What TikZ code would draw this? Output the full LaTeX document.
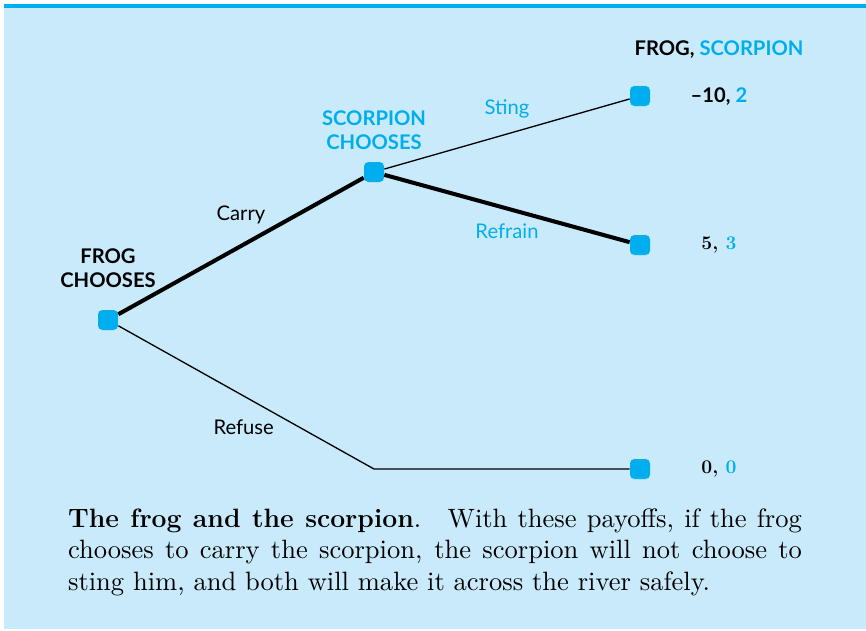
\documentclass[tikz,border=0pt]{standalone}
\usepackage{fontspec}
\setsansfont{Lato}
\newfontfamily\captionfont{lmroman10-regular.otf}[BoldFont=lmroman12-bold.otf]
\usetikzlibrary{positioning}
\definecolor{barcyan}{RGB}{0,174,239}
\definecolor{panelblue}{RGB}{201,234,251}
\definecolor{movecyan}{RGB}{0,174,239}

\begin{document}
\begin{tikzpicture}[
    x=0.02cm, y=-0.02cm,
    every node/.style={font=\sffamily\fontsize{11.5}{13.7}\selectfont},
    choice/.style={fill=movecyan, rounded corners=2.5pt, minimum size=0.4cm, inner sep=0pt},
    player/.style={font=\sffamily\bfseries\fontsize{11.5}{13.7}\selectfont, align=center, inner sep=1pt},
    payoff/.style={font=\bfseries\fontsize{11}{13}\selectfont},
    move/.style={line width=0.75pt},
    played/.style={line width=2.3pt},
    caption/.style={font=\captionfont\fontsize{15.1}{17.9}\selectfont, text width=14.68cm, align=justify, inner sep=0pt}
]
\useasboundingbox (0,0) rectangle (866,630);
\fill[panelblue] (4,4) rectangle (866,629);
\fill[barcyan] (4,4) rectangle (866,8);

% decision nodes
\node[choice] (frog) at (108,320) {};
\node[choice] (scorpion) at (374,172) {};
\node[choice] (sting) at (640,96) {};
\node[choice] (refrain) at (640,245) {};
\node[choice] (refuse) at (640,469) {};
\coordinate (bend) at (374,469);

\node[player, above=0.4cm of frog] (froglabel) {FROG\\CHOOSES};
\node[player, text=movecyan, above=0.2cm of scorpion] (scorplabel) {SCORPION\\CHOOSES};

% payoffs
\node[player] (header) at (719,50) {FROG, \textcolor{movecyan}{SCORPION}};
\node[player] (stingpay) at (719,97) {--10, \textcolor{movecyan}{2}};
\node[payoff] (refrainpay) at (719,245) {5, \textcolor{movecyan}{3}};
\node[payoff] (refusepay) at (719,469) {0, \textcolor{movecyan}{0}};

% branches
\draw[played] (frog) -- node[midway, yshift=0.62cm] (carrylabel) {Carry} (scorpion);
\draw[move] (frog) -- node[midway, yshift=-0.6cm, xshift=-0.05cm] (refuselabel) {Refuse} (bend) -- (refuse);
\draw[move] (scorpion) -- node[midway, yshift=0.5cm, text=movecyan] (stinglabel) {Sting} (sting);
\draw[played] (scorpion) -- node[midway, yshift=-0.45cm, text=movecyan] (refrainlabel) {Refrain} (refrain);

\node[caption] (caption) at (435,552) {\textbf{The frog and the scorpion}.\quad With these payoffs, if the frog\linebreak chooses to carry the scorpion, the scorpion will not choose to\linebreak sting him, and both will make it across the river safely.};
\end{tikzpicture}
\end{document}
